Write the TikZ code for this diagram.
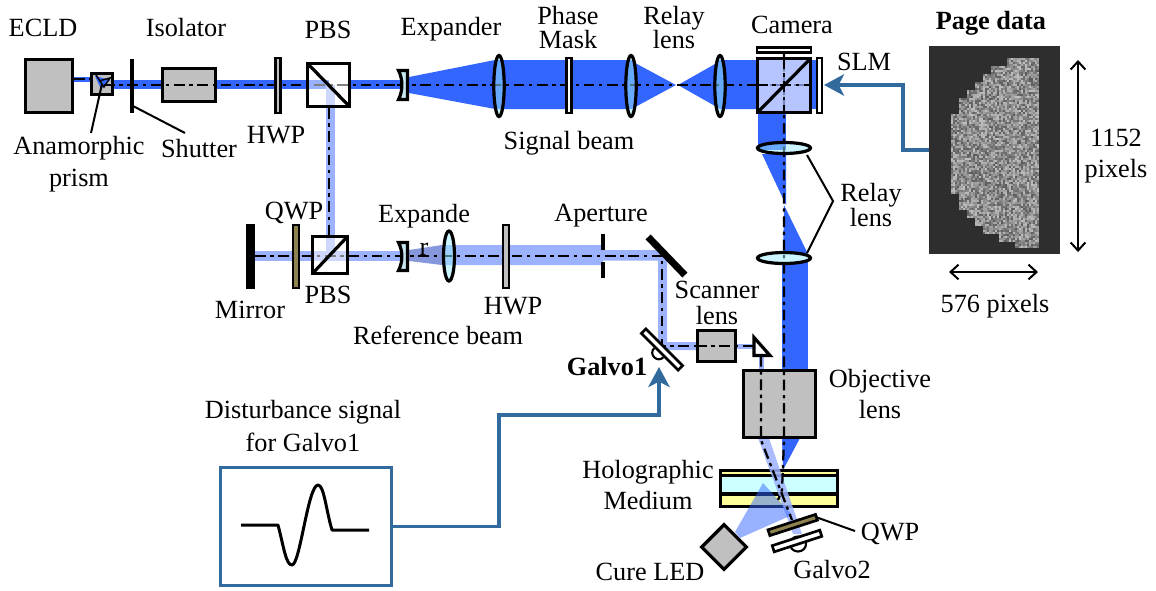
\documentclass[tikz,border=0pt]{standalone}
\usepackage{fontspec}
\setmainfont{Liberation Serif}
\usetikzlibrary{arrows.meta}

\definecolor{signalblue}{HTML}{3366FF}
\definecolor{refblue}{HTML}{9DB2FF}
\definecolor{lensblue}{HTML}{99ECFF}
\definecolor{boxgray}{HTML}{C0C0C0}
\definecolor{qwpolive}{HTML}{8E8250}
\definecolor{ctrlblue}{HTML}{336A9E}
\definecolor{expandfill}{HTML}{C6E8F2}
\definecolor{mediumyellow}{HTML}{FFFF99}
\definecolor{mediumcyan}{HTML}{CCFFFF}
\definecolor{pagebg}{HTML}{2E2E2E}

\tikzset{
	every picture/.style={line width=0.75pt},
	lbl/.style={font=\fontsize{19.7}{18}\selectfont, align=center, inner sep=0pt},
	boldlbl/.style={lbl, font=\fontsize{19.7}{18}\selectfont\bfseries},
	outline/.style={draw=black, line width=2.4pt, line join=miter},
	boxsize/.style 2 args={minimum width=#1*0.75pt, minimum height=#2*0.75pt, inner sep=0pt, outer sep=0pt},
	optbox/.style={outline, fill=boxgray},
	plate/.style={outline, line width=2pt, fill=white},
	grayplate/.style={outline, line width=2pt, fill=boxgray},
	oliveplate/.style={outline, line width=2pt, fill=qwpolive},
	lens/.style={outline, fill=lensblue, fill opacity=0.5},
	centerline/.style={draw=black, line width=1.7pt, dash pattern=on 8pt off 3.5pt on 2.5pt off 3.5pt},
	signalbeam/.style={fill=signalblue, draw=none},
	refbeam/.style={fill=refblue, draw=none},
	leader/.style={draw=black, line width=1.5pt},
	ctrlwire/.style={draw=ctrlblue, line width=2.6pt},
	ctrlarrow/.style={ctrlwire, -{Stealth[length=15pt, width=16pt, inset=4pt]}},
	sizearrow/.style={draw=black, line width=1.5pt, {Straight Barb[length=6pt, width=11pt]}-{Straight Barb[length=6pt, width=11pt]}},
}

\begin{document}
\begin{tikzpicture}[x=0.75pt,y=0.75pt,yscale=-1,xscale=1]
	\useasboundingbox (0,0) rectangle (1156,590);

	%Beams: signal path
	\fill[signalbeam] (74,77) rectangle (92,81.5);
	\fill[signalbeam] (104,80) rectangle (329,89);
	\fill[signalbeam] (351,80) rectangle (400,89);
	\fill[signalbeam] (409,77) -- (495,60) -- (631,60) -- (637,64) -- (676,85) -- (637,106) -- (631,109) -- (495,109) -- (409,93) -- cycle;
	\fill[signalbeam] (678,85) -- (715,64) -- (720,60) -- (758,60) -- (758,109) -- (720,109) -- (715,106) -- cycle;
	\fill[signalbeam] (810,60) rectangle (818,109);
	\fill[signalbeam] (758,112) rectangle (786,150);
	\fill[signalbeam] (762,154) -- (786,154) -- (786,205) -- cycle;
	\fill[signalbeam] (784,205) -- (808,254) -- (783,254) -- cycle;
	\fill[signalbeam] (782,262) rectangle (808,370);
	\fill[signalbeam] (782,438) -- (800,438) -- (783,470) -- cycle;

	%Beams: reference path
	\fill[refbeam] (326,85) rectangle (335,256);
	\fill[refbeam] (250,251) rectangle (400,260.5);
	\fill[refbeam] (409,250) -- (442,245) -- (603,245) -- (603,250) -- (662,250) -- (667,256) -- (667,342) -- (697,342) -- (697,350) -- (666,350) -- (658,345) -- (658,260.5) -- (603,260.5) -- (603,265) -- (442,265) -- (409,261) -- cycle;
	\fill[black, fill opacity=0.14] (409,250) -- (442,245) -- (442,265) -- (409,261) -- cycle;
	\fill[refbeam] (737,344) rectangle (762,349);
	\fill[refbeam] (758.5,354) rectangle (763.5,370);

	%Shape: Holographic medium
	\draw[outline, fill=mediumyellow] (720.5,470.5) rectangle (837.5,506.5);
	\draw[outline, fill=mediumcyan] (720.5,475.5) rectangle (837.5,494);

	%Beams below the objective
	\fill[refbeam, fill opacity=0.85] (758,438) -- (769,438) -- (802,534) -- (793,534) -- cycle;
	\fill[signalblue, fill opacity=0.5] (735,532) -- (763,483) -- (792,515) -- (740,538) -- cycle;

	%Boxes
	\node[optbox, boxsize={47.5}{53}] (ecld) at (49,86) {};
	\node[optbox, boxsize={21.5}{21.5}] (prismbox) at (102,84) {};
	\node[optbox, boxsize={53.5}{33.5}] (isolator) at (189,85) {};
	\node[optbox, boxsize={38.5}{31.5}] (scannerlens) at (716.5,346) {};
	\node[optbox, boxsize={72.5}{67.5}] (objective) at (779.5,404) {};
	\node[optbox, boxsize={31.5}{31.5}, rotate=45] (cureled) at (724,547) {};

	%Prism pieces
	\fill[signalblue] (95,76) -- (110,80) -- (101,89) -- cycle;
	\draw[black, line width=1.1pt] (96,75) -- (104,87) -- (110,78) -- (99,81);

	%Center lines
	\draw[centerline] (74,79) -- (92,79);
	\draw[centerline] (104,85) -- (397,85);
	\draw[centerline] (397,85) -- (812,85);
	\draw[centerline] (329,108) -- (329,235);
	\draw[centerline] (255,256) -- (662,256) -- (662,346) -- (696,346);
	\draw[centerline] (696,346) -- (760,346);
	\draw[centerline] (761,356) -- (761,440) -- (792,520);
	\draw[centerline] (784,53) -- (784,440) -- (782,490) -- (778,500);

	%Shape: Beam splitters
	\node[outline, fill=white, fill opacity=0.5, text opacity=1, boxsize={42.5}{43.5}] (pbsupper) at (328.5,85) {};
	\draw[outline] (pbsupper.north west) -- (pbsupper.south east);
	\node[outline, fill=white, fill opacity=0.5, boxsize={35.5}{37.5}] (pbslower) at (330,255) {};
	\draw[outline] (pbslower.south west) -- (pbslower.north east);
	\fill[refblue, fill opacity=0.75] (757.5,58.5) rectangle (810.5,112.5);
	\node[outline, boxsize={53.5}{54.5}] (cube) at (784,85.5) {};
	\draw[centerline] (757,85) -- (811,85);
	\draw[centerline] (784,58) -- (784,113);
	\draw[outline] (cube.south west) -- (cube.north east);

	%Shape: Plates
	\node[grayplate, boxsize={5.5}{55}] (hwpupper) at (278,85.5) {};
	\node[plate, boxsize={5.5}{55}] (phasemask) at (569,85.5) {};
	\node[plate, boxsize={54}{4.5}] (camera) at (784,50) {};
	\node[plate, boxsize={5}{55}] (slm) at (819.5,85.5) {};
	\node[fill=black, boxsize={9}{65}] (mirror) at (250.5,256.5) {};
	\node[oliveplate, boxsize={6}{63}] (qwplower) at (296,256.5) {};
	\node[grayplate, boxsize={6}{63}] (hwplower) at (506,256.5) {};
	\node[fill=black, boxsize={53}{7}, rotate=-46] (foldmirror) at (666.5,256) {};

	%Shape: Shutter and aperture
	\coordinate (shuttertop) at (132,59);
	\coordinate (shutterbot) at (132,113);
	\draw[outline] (shuttertop) -- (shutterbot);
	\draw[outline] (603,234) -- (603,250);
	\draw[outline] (603,262) -- (603,278);

	%Shape: Lenses
	\draw[lens] (499,86) ellipse (5.2 and 30.5);
	\draw[lens] (631,86) ellipse (5.2 and 30.5);
	\draw[lens] (720,86) ellipse (5.2 and 30.5);
	\draw[lens] (784,148) ellipse (26.5 and 5.5);
	\draw[lens] (784,258) ellipse (26.5 and 5.5);
	\draw[lens] (449,256) ellipse (5.5 and 25);

	%Shape: Expander lenses
	\draw[outline, fill=expandfill] (398.5,70.5) -- (407.5,70.5) -- (407.5,99.5) -- (398.5,99.5) .. controls (403,91) and (403,79) .. (398.5,70.5) -- cycle;
	\draw[outline, fill=expandfill] (398.5,242.5) -- (407.5,242.5) -- (407.5,270.5) -- (398.5,270.5) .. controls (403,262) and (403,251) .. (398.5,242.5) -- cycle;

	%Shape: Galvo mirrors
	\draw[line width=1.6pt] (654.2,348.1) .. controls (648.1,354.2) and (657.3,363.4) .. (663.4,357.3);
	\node[plate, boxsize={52}{6.5}, rotate=-45] (galvoone) at (662,349.5) {};
	\draw[outline, fill=white] (754,337.5) -- (754,355.5) -- (770,355.5) -- cycle;
	\draw[line width=1.6pt] (798,544) ellipse (8 and 7.5);
	\node[oliveplate, boxsize={50}{6}, rotate=18] (qwpmedium) at (792.7,525) {};
	\node[plate, boxsize={50}{6.5}, rotate=18] (galvotwo) at (797,541) {};

	%Shape: Page data
	\node[fill=pagebg, boxsize={131}{208}] (pagedata) at (994.5,150) {};
	\pgfmathsetseed{4242}
	\foreach \row in {0,...,94}{
		\pgfmathsetmacro{\ytop}{58+2*\row}
		\pgfmathsetmacro{\yblock}{58+8*floor(\row/4)+4}
		\pgfmathtruncatemacro{\cols}{min(94,sqrt(max(0,97^2-(\yblock-152.5)^2)))/2/4}
		\pgfmathtruncatemacro{\cols}{\cols*4}
		\foreach \col in {1,...,\cols}{
			\pgfmathtruncatemacro{\shade}{25+rnd*40}
			\fill[black!\shade] (1039-2*\col,\ytop) rectangle ++(2,2);
		}
	}

	%Shape: Signal box and waveform
	\node[draw=ctrlblue, line width=2.6pt, boxsize={171}{118}] (distbox) at (306,526.5) {};
	\draw[black, line width=2.25pt, line join=round] (241,525) -- (278,525) .. controls (284,548) and (286,565) .. (292,565) .. controls (300,565) and (308,485) .. (318,485) .. controls (324,485) and (326,510) .. (332,530) -- (369,530);

	%Control connectors
	\coordinate (slmtip) at (824,85);
	\coordinate (galvotip) at (659,367);
	\draw[ctrlarrow] (pagedata.west) -| (903,85) -- (slmtip);
	\draw[ctrlarrow] (distbox.east) -| (499,415) -| (galvotip);

	%Size arrows
	\coordinate (pagetop) at (1078,60);
	\coordinate (pagebot) at (1078,252);
	\coordinate (pageleft) at (949,272);
	\coordinate (pageright) at (1038,272);
	\draw[sizearrow] (pagetop) -- (pagebot);
	\draw[sizearrow] (pageleft) -- (pageright);

	% Text Node
	\draw (43,28) node[lbl] (ecldtext) {ECLD};
	% Text Node
	\draw (186,28) node[lbl] (isolatortext) {Isolator};
	% Text Node
	\draw (328,30) node[lbl] (pbstext) {PBS};
	% Text Node
	\draw (451,29) node[lbl] (expandertext) {Expander};
	% Text Node
	\draw (568,28) node[lbl] (phasetext) {Phase\\Mask};
	% Text Node
	\draw (674,28) node[lbl] (relaytext) {Relay\\lens};
	% Text Node
	\draw (792,25) node[lbl] (cameratext) {Camera};
	% Text Node
	\draw (864,62) node[lbl] (slmtext) {SLM};
	% Text Node
	\draw (991,23) node[boldlbl] (pagetext) {Page data};
	% Text Node
	\draw (569,143) node[lbl] (signaltext) {Signal beam};
	% Text Node
	\draw (276,135) node[lbl] (hwptext) {HWP};
	% Text Node
	\draw (79,164) node[lbl] (anamorphictext) {Anamorphic\\[6pt]prism};
	% Text Node
	\draw (199,149) node[lbl] (shuttertext) {Shutter};
	% Text Node
	\draw (294,213) node[lbl] (qwptext) {QWP};
	% Text Node
	\draw (424,230) node[lbl] (expandetext) {Expande\\[7pt]r};
	% Text Node
	\draw (601,216) node[lbl] (aperturetext) {Aperture};
	% Text Node
	\draw (250,310) node[lbl] (mirrortext) {Mirror};
	% Text Node
	\draw (328,295) node[lbl] (pbslowertext) {PBS};
	% Text Node
	\draw (513,306) node[lbl] (hwplowertext) {HWP};
	% Text Node
	\draw (438,335) node[lbl] (referencetext) {Reference beam};
	% Text Node
	\draw (717,303) node[lbl] (scannertext) {Scanner\\[1pt]lens};
	% Text Node
	\draw (880,394) node[lbl] (objectivetext) {Objective\\[5pt]lens};
	% Text Node
	\draw (648,485) node[lbl] (holographictext) {Holographic\\[5pt]Medium};
	% Text Node
	\draw (650,572) node[lbl] (ledtext) {Cure LED};
	% Text Node
	\draw (832,570) node[lbl] (galvotwotext) {Galvo2};
	% Text Node
	\draw (607,367) node[boldlbl] (galvoonetext) {Galvo1};
	% Text Node
	\draw (890,534) node[lbl] (qwpmediumtext) {QWP};
	% Text Node
	\draw (303,426) node[lbl] (disturbancetext) {Disturbance signal\\[5pt]for Galvo1};
	% Text Node
	\draw (871,205) node[lbl] (relaylowertext) {Relay\\[1pt]lens};
	% Text Node
	\draw (1116,156) node[lbl] (sizeytext) {1152\\[5pt]pixels};
	% Text Node
	\draw (995,306) node[lbl] (sizextext) {576 pixels};

	%Leader lines
	\coordinate (anaend) at (91,133);
	\coordinate (shutend) at (185,133);
	\coordinate (relaybend) at (833,201);
	\coordinate (qwpend) at (855,531);
	\draw[leader] (prismbox.center) -- (anaend);
	\draw[leader] (133,106) -- (shutend);
	\draw[leader] (807,155) -- (relaybend) -- (807,253);
	\draw[leader] (qwpmedium.east) -- (qwpend);
\end{tikzpicture}
\end{document}
